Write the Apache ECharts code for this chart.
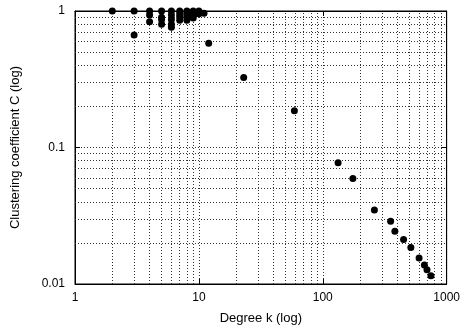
<!DOCTYPE html>
<html><head><meta charset="utf-8">
<script src="https://cdn.jsdelivr.net/npm/echarts@6/dist/echarts.min.js"></script>
<style>html,body{margin:0;padding:0;background:#fff}#c{width:463px;height:330px}</style>
</head><body><div id="c"></div>
<script>
// Degree k values and clustering coefficients C
const degreeK = [2, 3, 3, 4, 4, 4, 5, 5, 5, 5, 6, 6, 6, 6, 6, 7, 7, 7, 7, 8, 8, 8, 8, 8, 9, 9, 9, 9, 10, 10, 10, 11, 12, 23, 59, 133, 175, 261, 353, 382, 449, 514, 599, 661, 694, 747];
const clusteringC = [1, 1, 0.667, 1, 0.933, 0.833, 1, 0.9, 0.867, 0.8, 1, 0.933, 0.867, 0.8, 0.76, 1, 0.952, 0.905, 0.857, 1, 0.964, 0.929, 0.893, 0.857, 1, 0.944, 0.917, 0.889, 1, 0.978, 0.956, 0.964, 0.58, 0.326, 0.186, 0.0773, 0.0594, 0.0349, 0.0288, 0.0243, 0.0212, 0.0185, 0.0155, 0.0138, 0.0127, 0.0115];
// minor grid positions
const xMinorTicks = [2,3,4,5,6,7,8,9,20,30,40,50,60,70,80,90,200,300,400,500,600,700,800,900];
const yMinorTicks = [0.02,0.03,0.04,0.05,0.06,0.07,0.08,0.09,0.2,0.3,0.4,0.5,0.6,0.7,0.8,0.9];
const xRange = [1, 1000];
const yRange = [0.01, 1];

const font = 'Liberation Sans';
const gridStyle = {color: '#333', width: 1, type: [1, 2]};
const fmt = v => String(+Number(v).toPrecision(6));

const points = degreeK.map((k, i) => [k, clusteringC[i]]);
const minorLines = xMinorTicks.map(v => ({xAxis: v})).concat(yMinorTicks.map(v => ({yAxis: v})));

const chart = echarts.init(document.getElementById('c'), null, {renderer: 'canvas'});
chart.setOption({
  animation: false,
  backgroundColor: '#fff',
  grid: {left: 75, right: 14, top: 11, bottom: 45, show: true, borderColor: '#000', borderWidth: 1, containLabel: false},
  xAxis: [{
    type: 'log', logBase: 10, min: xRange[0], max: xRange[1],
    name: 'Degree k (log)', nameLocation: 'middle', nameGap: 28,
    nameTextStyle: {fontFamily: font, fontSize: 13, color: '#000'},
    axisLine: {show: true, lineStyle: {color: '#000', width: 1}},
    axisTick: {show: true, inside: true, length: 5, lineStyle: {color: '#000'}},
    axisLabel: {fontFamily: font, fontSize: 12, color: '#000', margin: 8, formatter: fmt},
    splitLine: {show: true, lineStyle: gridStyle}
  }, {
    type: 'log', logBase: 10, min: xRange[0], max: xRange[1], position: 'top',
    axisLine: {show: true, lineStyle: {color: '#000', width: 1}},
    axisTick: {show: true, inside: true, length: 5, lineStyle: {color: '#000'}},
    axisLabel: {show: false}, splitLine: {show: false}
  }],
  yAxis: [{
    type: 'log', logBase: 10, min: yRange[0], max: yRange[1],
    name: 'Clustering coefficient C (log)', nameLocation: 'middle', nameGap: 53,
    nameTextStyle: {fontFamily: font, fontSize: 13, color: '#000'},
    axisLine: {show: true, lineStyle: {color: '#000', width: 1}},
    axisTick: {show: true, inside: true, length: 5, lineStyle: {color: '#000'}},
    axisLabel: {fontFamily: font, fontSize: 12, color: '#000', margin: 10, formatter: fmt},
    splitLine: {show: true, lineStyle: gridStyle}
  }, {
    type: 'log', logBase: 10, min: yRange[0], max: yRange[1], position: 'right',
    axisLine: {show: true, lineStyle: {color: '#000', width: 1}},
    axisTick: {show: true, inside: true, length: 5, lineStyle: {color: '#000'}},
    axisLabel: {show: false}, splitLine: {show: false}
  }],
  series: [{
    type: 'scatter', data: [], z: 1, silent: true,
    markLine: {
      silent: true, symbol: 'none', label: {show: false}, animation: false,
      lineStyle: gridStyle, emphasis: {disabled: true},
      data: minorLines
    }
  }, {
    type: 'scatter', z: 5, symbol: 'circle', symbolSize: 7,
    itemStyle: {color: '#000', opacity: 1},
    data: points
  }]
});
</script></body></html>
